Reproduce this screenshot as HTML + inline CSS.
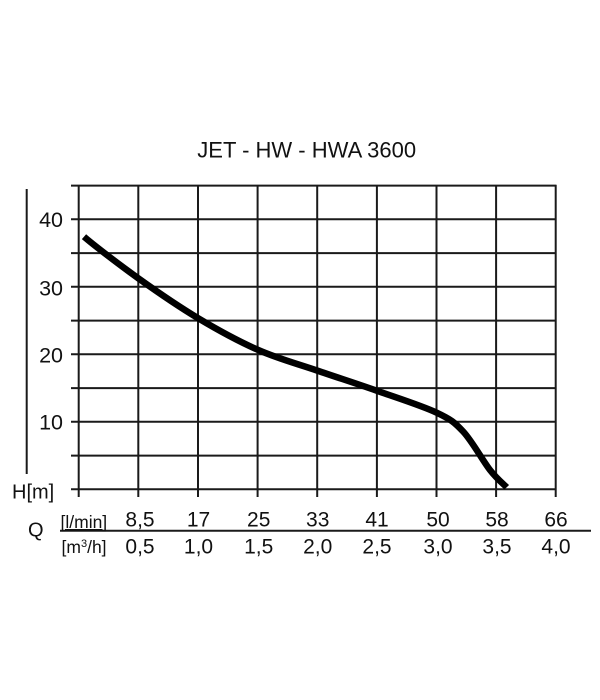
<!DOCTYPE html>
<html>
<head>
<meta charset="utf-8">
<style>
html,body{margin:0;padding:0;background:#fff;}
svg{display:block;}
text{font-family:"Liberation Sans",Arial,sans-serif;fill:#111;}
</style>
</head>
<body>
<svg width="600" height="700" viewBox="0 0 600 700" xmlns="http://www.w3.org/2000/svg">
<rect width="600" height="700" fill="#fff"/>
<text x="306.7" y="157.3" font-size="22" text-anchor="middle">JET - HW - HWA 3600</text>

<g stroke="#1a1a1a" stroke-width="2" fill="none">
  <line x1="71" y1="185.6" x2="556.5" y2="185.6"/>
  <line x1="71" y1="219.3" x2="556.5" y2="219.3"/>
  <line x1="71" y1="253.1" x2="556.5" y2="253.1"/>
  <line x1="71" y1="286.8" x2="556.5" y2="286.8"/>
  <line x1="71" y1="320.6" x2="556.5" y2="320.6"/>
  <line x1="71" y1="354.3" x2="556.5" y2="354.3"/>
  <line x1="71" y1="388.1" x2="556.5" y2="388.1"/>
  <line x1="71" y1="421.8" x2="556.5" y2="421.8"/>
  <line x1="71" y1="455.6" x2="556.5" y2="455.6"/>
  <line x1="71" y1="489.3" x2="556.5" y2="489.3"/>
  <line x1="78.7" y1="185" x2="78.7" y2="497"/>
  <line x1="138.3" y1="185" x2="138.3" y2="497"/>
  <line x1="198" y1="185" x2="198" y2="497"/>
  <line x1="257.6" y1="185" x2="257.6" y2="497"/>
  <line x1="317.2" y1="185" x2="317.2" y2="497"/>
  <line x1="376.9" y1="185" x2="376.9" y2="497"/>
  <line x1="436.5" y1="185" x2="436.5" y2="497"/>
  <line x1="496.1" y1="185" x2="496.1" y2="497"/>
  <line x1="555.7" y1="185" x2="555.7" y2="497"/>
  <line x1="26.7" y1="189" x2="26.7" y2="474"/>
  <line x1="60" y1="530.7" x2="591" y2="530.7"/>
</g>

<path d="M84,236.7 C93,244.5 119.25,264.7 138.3,278.3 C157.35,291.9 178.3,306.35 198.3,318.3 C218.3,330.25 238.52,341.3 258.3,350 C278.08,358.7 297.27,363.72 317,370.5 C336.73,377.28 356.75,383.67 376.7,390.7 C396.65,397.73 422.27,405.87 436.7,412.7 C451.13,419.53 454.42,422.15 463.3,431.7 C472.18,441.25 482.77,460.73 490,470 C497.23,479.27 503.9,484.4 506.7,487.3"
 fill="none" stroke="#000" stroke-width="6.5" stroke-linecap="butt" stroke-linejoin="round"/>

<g font-size="21.5" text-anchor="end">
  <text x="63" y="227">40</text>
  <text x="63" y="295.5">30</text>
  <text x="63" y="362.5">20</text>
  <text x="63" y="429.5">10</text>
</g>
<text x="12" y="498.7" font-size="20">H[m]</text>

<text x="28" y="536.5" font-size="20">Q</text>
<text x="60.5" y="528" font-size="17.5" text-decoration="underline">[l/min]</text>
<text x="61.5" y="553" font-size="17.5">[m<tspan font-size="11" dy="-6">3</tspan><tspan dy="6">/h]</tspan></text>

<g font-size="21" text-anchor="middle">
  <text x="140" y="526.7">8,5</text>
  <text x="198.5" y="526.7">17</text>
  <text x="258.7" y="526.7">25</text>
  <text x="317.7" y="526.7">33</text>
  <text x="377" y="526.7">41</text>
  <text x="438" y="526.7">50</text>
  <text x="497" y="526.7">58</text>
  <text x="556" y="526.7">66</text>

  <text x="140" y="553.3">0,5</text>
  <text x="198.5" y="553.3">1,0</text>
  <text x="258.7" y="553.3">1,5</text>
  <text x="317.7" y="553.3">2,0</text>
  <text x="377" y="553.3">2,5</text>
  <text x="438" y="553.3">3,0</text>
  <text x="497" y="553.3">3,5</text>
  <text x="556" y="553.3">4,0</text>
</g>
</svg>
</body>
</html>
